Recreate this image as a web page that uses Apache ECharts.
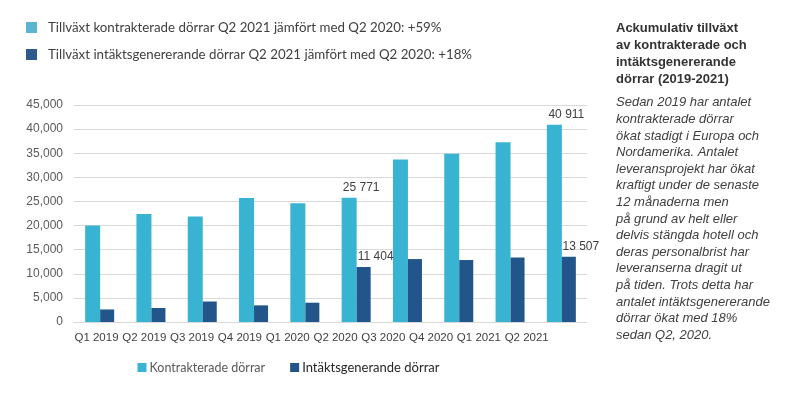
<!DOCTYPE html>
<html>
<head>
<meta charset="utf-8">
<script src="https://cdn.jsdelivr.net/npm/echarts@6/dist/echarts.min.js"></script>
<style>
html,body{margin:0;padding:0;background:#fff;}
#chart{width:801px;height:394px;}
</style>
</head>
<body>
<div id="chart"></div>
<script>
var categories = ['Q1 2019','Q2 2019','Q3 2019','Q4 2019','Q1 2020','Q2 2020','Q3 2020','Q4 2020','Q1 2021','Q2 2021'];
var kontrakterade = [20000, 22400, 21900, 25700, 24600, 25771, 33700, 34900, 37300, 40911];
var intakts = [2600, 2900, 4250, 3450, 4000, 11404, 13050, 12850, 13350, 13507];
var labelledIdx = [5, 9];
var seriesNames = ['Kontrakterade dörrar', 'Intäktsgenerande dörrar'];
var growthTexts = ['Tillväxt kontrakterade dörrar Q2 2021 jämfört med Q2 2020: +59%',
                   'Tillväxt intäktsgenererande dörrar Q2 2021 jämfört med Q2 2020: +18%'];
var yTicks = {min: 0, max: 45000, interval: 5000};
var sideTitle = ['Ackumulativ tillväxt', 'av kontrakterade och', 'intäktsgenererande', 'dörrar (2019-2021)'];
var sideBody = ['Sedan 2019 har antalet', 'kontrakterade dörrar', 'ökat stadigt i Europa och', 'Nordamerika. Antalet',
  'leveransprojekt har ökat', 'kraftigt under de senaste', '12 månaderna men', 'på grund av helt eller',
  'delvis stängda hotell och', 'deras personalbrist har', 'leveranserna dragit ut', 'på tiden. Trots detta har',
  'antalet intäktsgenererande', 'dörrar ökat med 18%', 'sedan Q2, 2020.'];

function fmtSpace(v){ return String(v).replace(/\B(?=(\d{3})+(?!\d))/g, ' '); }
function fmtComma(v){ return String(v).replace(/\B(?=(\d{3})+(?!\d))/g, ','); }
function buildData(arr){
  return arr.map(function(v,i){
    return {value: v, label: {show: labelledIdx.indexOf(i) >= 0}};
  });
}

var chart = echarts.init(document.getElementById('chart'), null, {renderer:'canvas'});
var barLabel = {
  position: 'top', distance: 4, offset: [12, 0],
  color: '#404040', fontFamily: 'Liberation Sans', fontSize: 12,
  formatter: function(p){ return fmtSpace(p.value); }
};
var option = {
  animation: false,
  backgroundColor: '#fff',
  legend: [{
    orient: 'vertical', left: 26, top: 21, itemGap: 14, padding: 0,
    itemWidth: 11, itemHeight: 11, icon: 'rect',
    selectedMode: false,
    data: [
      {name: seriesNames[0], itemStyle: {color: '#5AB4D2'}},
      {name: seriesNames[1], itemStyle: {color: '#2E5A8C'}}
    ],
    formatter: function(n){ return growthTexts[seriesNames.indexOf(n)]; },
    textStyle: {fontFamily: 'Lato', fontSize: 13.3, color: '#404040', padding: [0,0,0,6]}
  },{
    orient: 'horizontal', left: 137.5, top: 361, itemGap: 25, padding: 0,
    itemWidth: 9, itemHeight: 9, icon: 'rect',
    selectedMode: false,
    data: [
      {name: seriesNames[0], textStyle: {fontFamily: 'Lato', fontSize: 12.5, color: '#595959', padding: [0,0,0,-2]}},
      {name: seriesNames[1], textStyle: {fontFamily: 'Lato', fontSize: 13, color: '#262626', padding: [0,0,0,-2]}}
    ]
  }],
  grid: [
    {left: 74, right: 214, top: 105, bottom: 72},
    {left: 72.6, right: 250.4, top: 105, bottom: 72}
  ],
  xAxis: [{
    type: 'category', gridIndex: 0, data: categories,
    axisLine: {show: true, lineStyle: {color: '#D9D9D9', width: 1}},
    axisTick: {show: false}, axisLabel: {show: false}
  },{
    type: 'category', gridIndex: 1, data: categories,
    axisLine: {show: false}, axisTick: {show: false},
    axisLabel: {show: true, interval: 0, margin: 10, color: '#404040', fontFamily: 'Liberation Sans', fontSize: 11.5}
  }],
  yAxis: [{
    type: 'value', gridIndex: 0, min: yTicks.min, max: yTicks.max, interval: yTicks.interval,
    axisLine: {show: false}, axisTick: {show: false},
    splitLine: {lineStyle: {color: '#D9D9D9', width: 1}},
    axisLabel: {margin: 11, color: '#595959', fontFamily: 'Liberation Sans', fontSize: 12,
      formatter: function(v){ return fmtComma(v); }}
  },{
    type: 'value', gridIndex: 1, min: yTicks.min, max: yTicks.max, interval: yTicks.interval,
    show: false
  }],
  series: [{
    name: seriesNames[0], type: 'bar', xAxisIndex: 0, yAxisIndex: 0,
    data: buildData(kontrakterade), barWidth: 15, barGap: '0%',
    itemStyle: {color: '#38B3D2'},
    label: barLabel
  },{
    name: seriesNames[1], type: 'bar', xAxisIndex: 0, yAxisIndex: 0,
    data: buildData(intakts), barWidth: 14, barGap: '0%',
    itemStyle: {color: '#22558A'},
    label: barLabel
  }],
  graphic: [{
    type: 'text', left: 616, top: 20.5,
    style: {text: sideTitle.join('\n'), font: 'bold 13px "Liberation Sans"', lineHeight: 16.7, fill: '#333333'}
  },{
    type: 'text', left: 616, top: 94.5,
    style: {text: sideBody.join('\n'), font: 'italic 13px "Liberation Sans"', lineHeight: 16.6, fill: '#404040'}
  }]
};
chart.setOption(option);
</script>
</body>
</html>
